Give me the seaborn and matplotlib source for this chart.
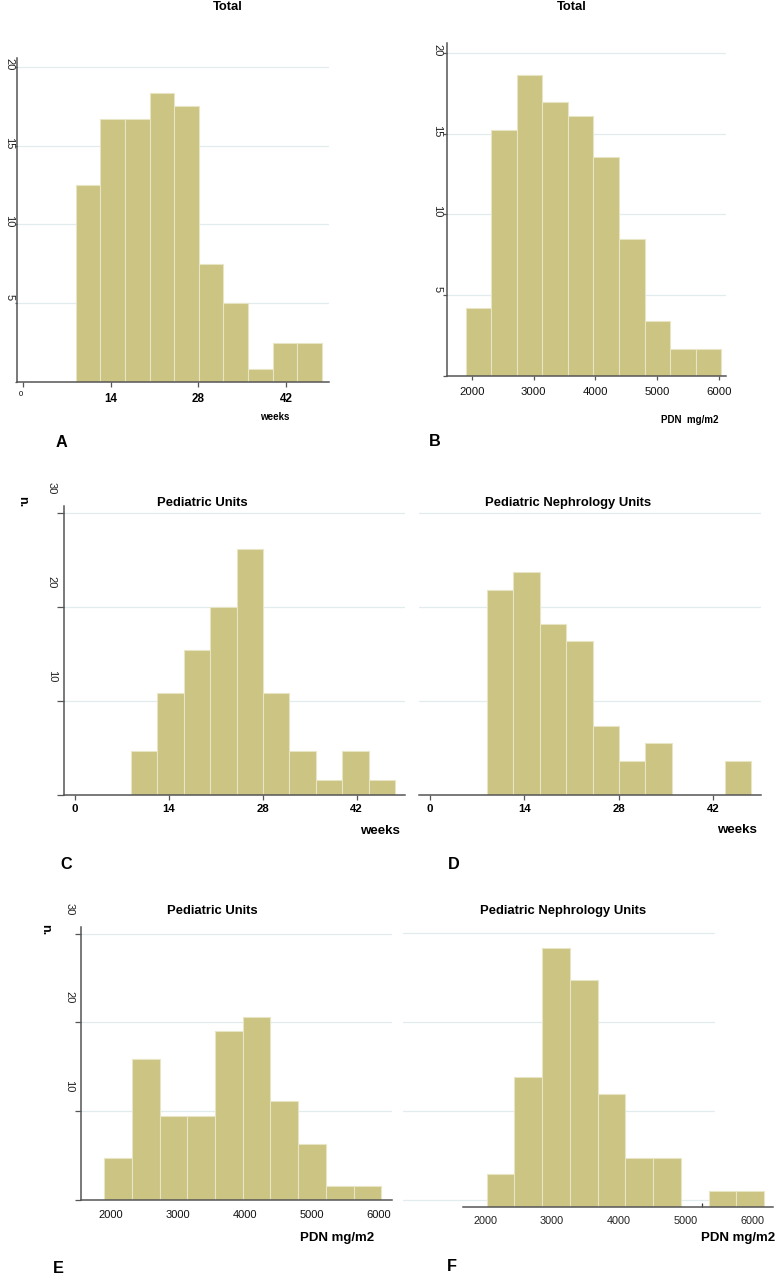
import numpy as np
import pandas as pd
import matplotlib
matplotlib.use("Agg")
import matplotlib.pyplot as plt
import matplotlib.transforms as mtransforms
import seaborn as sns

# Patients per bin (bars are shown as percent of n)
weeks_total = [15, 20, 20, 22, 21, 9, 6, 1, 3, 3]
weeks_ped = [3, 7, 10, 13, 17, 7, 3, 1, 3, 1]
weeks_neph = [12, 13, 10, 9, 4, 2, 3, 0, 0, 2]
pdn_total = [5, 18, 22, 20, 19, 16, 10, 4, 2, 2]
pdn_ped = [3, 10, 6, 6, 12, 13, 7, 4, 1, 1]
pdn_neph = [2, 8, 16, 14, 7, 3, 3, 0, 1, 1]

# Histogram range (first and last bin edge)
weeks_range = (8.4, 47.7)
pdn_range = (1904, 6034)
pdn_range_f = (2025, 6175)  # panel F sits a bit shifted in the original

week_ticks = [0, 14, 28, 42]
pdn_ticks = [2000, 3000, 4000, 5000, 6000]

# Style
W, H = 777, 1278
BAR = "#cbc482"
EDGE = "#e8e5c4"
GRID = "#e2ecee"
AXC = "#555555"

sns.set_style("white")
plt.rcParams["font.family"] = ["Liberation Sans", "DejaVu Sans"]
plt.rcParams["text.color"] = "black"

fig = plt.figure(figsize=(W / 100, H / 100), dpi=100)


def px_axes(x0, y0, x1, y1):
    return fig.add_axes([x0 / W, 1 - y1 / H, (x1 - x0) / W, (y1 - y0) / H])


def px_text(x, y, s, **kw):
    fig.text(x / W, 1 - y / H, s, ha="center", va="center", color="black", **kw)


def offset(dx, dy):
    return mtransforms.ScaledTranslation(dx / 100, dy / 100, fig.dpi_scale_trans)


def hist(ax, counts, rng):
    step = (rng[1] - rng[0]) / len(counts)
    mids = rng[0] + step * (np.arange(len(counts)) + 0.5)
    df = pd.DataFrame({"x": mids, "n": counts})
    sns.histplot(data=df, x="x", weights="n", bins=len(counts), binrange=rng,
                 stat="percent", ax=ax, color=BAR, edgecolor=EDGE,
                 linewidth=0.8, alpha=1)
    ax.set_xlabel("")
    ax.set_ylabel("")


def style(ax, xlim, ylim, left=True):
    ax.set_xlim(xlim)
    ax.set_ylim(ylim)
    for s in ["top", "right"]:
        ax.spines[s].set_visible(False)
    ax.spines["left"].set_visible(left)
    for s in ["left", "bottom"]:
        ax.spines[s].set_color(AXC)
        ax.spines[s].set_linewidth(1.1)
    ax.grid(axis="y", color=GRID, lw=0.9)
    ax.grid(axis="x", visible=False)
    ax.set_axisbelow(True)


def yticks(ax, ticks, labels, tlen, dy):
    ax.set_yticks(ticks, labels)
    ax.tick_params(axis="y", left=True, length=tlen, width=0.9, color=AXC,
                   labelrotation=-90, labelsize=8, labelcolor="#222222", pad=0.5)
    for lab in ax.get_yticklabels():
        lab.set_transform(lab.get_transform() + offset(0, dy))


def xticks(ax, ticks, bold, size, tlen, pad, color="black"):
    ax.set_xticks(ticks, [str(t) for t in ticks],
                  fontweight="bold" if bold else "normal")
    ax.tick_params(axis="x", bottom=tlen > 0, length=tlen, width=0.9, color=AXC,
                   labelsize=size, labelcolor=color, pad=pad)


# ---- A: total, weeks
axA = px_axes(17.3, 58.3, 329, 382)
hist(axA, weeks_total, weeks_range)
style(axA, (-0.96, 48.87), (0, 20.55))
xticks(axA, week_ticks, True, 8.4, 3.6, 4.3)
yticks(axA, [0, 5, 10, 15, 20], ["", "5", "10", "15", "20"], 1.8, 5)
zero = axA.get_xticklabels()[0]
zero.set_fontsize(5.5)
zero.set_fontweight("normal")
zero.set_transform(zero.get_transform() + offset(-2.6, 2))

# ---- B: total, PDN
axB = px_axes(447.3, 43.3, 726, 376)
hist(axB, pdn_total, pdn_range)
style(axB, (1605, 6113), (0, 20.6))
xticks(axB, pdn_ticks, False, 8.2, 3, 5, "#111111")
yticks(axB, [0, 5, 10, 15, 20], ["", "5", "10", "15", "20"], 3, 5)

# ---- C: pediatric units, weeks
axC = px_axes(64, 506, 405, 794.7)
hist(axC, weeks_ped, weeks_range)
style(axC, (-1.59, 49.2), (0, 30.7))
xticks(axC, week_ticks, True, 8.2, 3.6, 3.3)
yticks(axC, [0, 10, 20, 30], ["", "10", "20", "30"], 4.8, 27)

# ---- D: pediatric nephrology units, weeks
axD = px_axes(419.3, 506, 760.7, 794.7)
hist(axD, weeks_neph, weeks_range)
style(axD, (-1.59, 49.08), (0, 30.7), left=False)
xticks(axD, week_ticks, True, 8.2, 3.6, 3.3)
axD.set_yticks([10, 20, 30])
axD.tick_params(axis="y", left=False, labelleft=False)

# ---- E: pediatric units, PDN
axE = px_axes(81, 927.3, 391.7, 1200.3)
hist(axE, pdn_ped, pdn_range)
style(axE, (1557, 6189), (0, 30.7))
xticks(axE, pdn_ticks, False, 8.0, 0, 7, "#111111")
yticks(axE, [0, 10, 20, 30], ["", "10", "20", "30"], 4.3, 27)

# ---- F: pediatric nephrology units, PDN
axF = px_axes(463.3, 933.8, 773.3, 1206.7)
hist(axF, pdn_neph, pdn_range_f)
style(axF, (1675, 6314), (0, 30.7), left=False)
axF.grid(False)
xticks(axF, pdn_ticks, False, 7.8, 0, 7, "#222222")
axF.set_xticks([5240], minor=True)
axF.tick_params(axis="x", which="minor", bottom=True, direction="in", length=3,
                width=0.9, color="#333333")
axF.tick_params(axis="y", left=False, labelleft=False)
gtr = mtransforms.blended_transform_factory(axF.transAxes, axF.transData) + offset(0, 6.7)
for g in [0, 10, 20, 30]:
    axF.plot([-0.194, 0.808], [g, g], transform=gtr, color=GRID, lw=0.9,
             clip_on=False, zorder=0)

# ---- titles, axis captions, panel letters
for x, y, s in [(227.7, 7.5, "Total"), (571.7, 7.5, "Total"),
                (202.7, 502.7, "Pediatric Units"), (568.3, 503.3, "Pediatric Nephrology Units"),
                (212.3, 911, "Pediatric Units"), (563.3, 911, "Pediatric Nephrology Units")]:
    px_text(x, y, s, fontsize=9.4, fontweight="bold")

px_text(274.3, 417.5, "weeks", fontsize=7, fontweight="bold")
px_text(690, 420.5, "PDN  mg/m2", fontsize=7, fontweight="bold")
px_text(380, 830.5, "weeks", fontsize=9.6, fontweight="bold")
px_text(736.7, 830, "weeks", fontsize=9.6, fontweight="bold")
px_text(336.7, 1238.3, "PDN mg/m2", fontsize=9.5, fontweight="bold")
px_text(738.3, 1238.3, "PDN mg/m2", fontsize=9.5, fontweight="bold")
px_text(21.7, 501.7, "n.", fontsize=9, fontweight="bold", rotation=-90)
px_text(45, 930, "n.", fontsize=9, fontweight="bold", rotation=-90)

for x, y, s in [(61, 442.7, "A"), (435, 441.7, "B"), (65.7, 864.3, "C"),
                (453.3, 864.3, "D"), (58.3, 1268.3, "E"), (451.7, 1266.7, "F")]:
    px_text(x, y, s, fontsize=11.7, fontweight="bold")

fig.savefig("out.png", dpi=100)
